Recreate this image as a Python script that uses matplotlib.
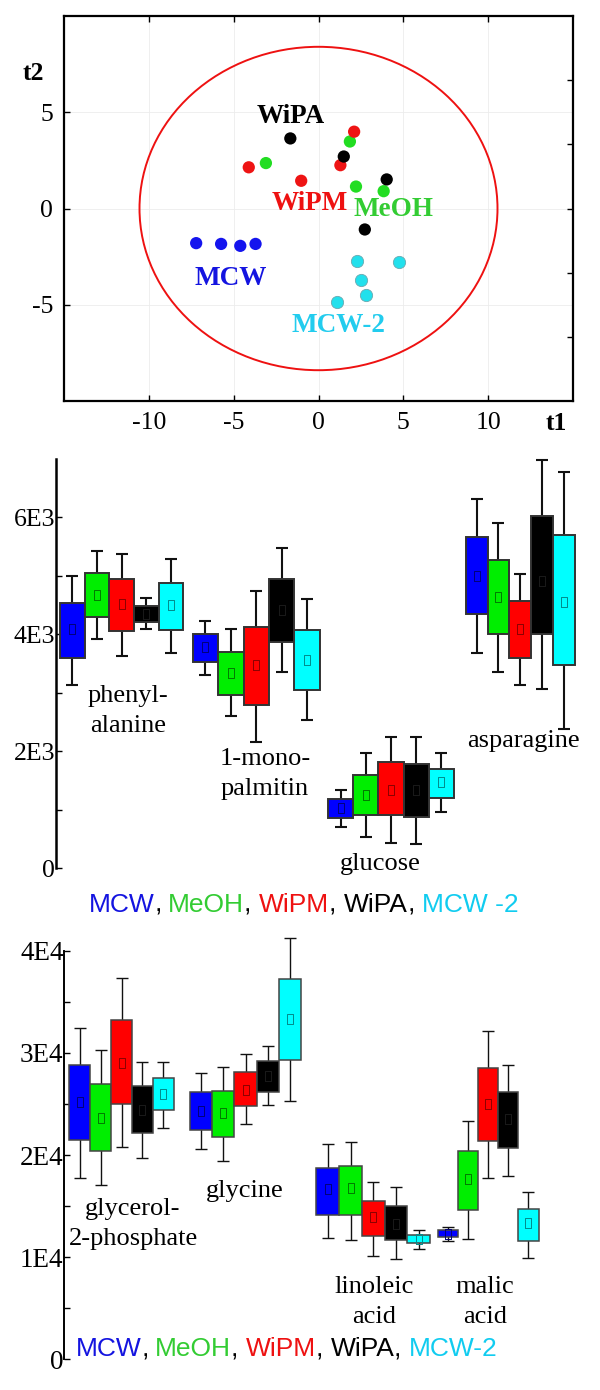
import numpy as np
import matplotlib
matplotlib.use("Agg")
import matplotlib.pyplot as plt
from matplotlib.patches import Ellipse

plt.rcParams['axes.unicode_minus'] = False

# ---------------- data ----------------
groups = ['MCW', 'MeOH', 'WiPM', 'WiPA', 'MCW-2']

# PCA scores (t1, t2)
mcw_t1 = [-7.21, -5.74, -4.61, -3.71]
mcw_t2 = [-1.80, -1.84, -1.94, -1.84]
meoh_t1 = [1.85, -3.10, 2.21, 3.84]
meoh_t2 = [3.48, 2.36, 1.14, 0.90]
wipm_t1 = [2.10, -4.11, 1.29, -1.02]
wipm_t2 = [3.99, 2.14, 2.25, 1.44]
wipa_t1 = [-1.66, 1.49, 4.02, 2.73]
wipa_t2 = [3.64, 2.70, 1.51, -1.09]
mcw2_t1 = [2.26, 4.72, 2.50, 2.82, 1.11]
mcw2_t2 = [-2.72, -2.77, -3.72, -4.50, -4.86]

# middle panel box plots
mid_labels = ['phenyl-\nalanine', '1-mono-\npalmitin', 'glucose', 'asparagine']
mid_q3 = [[4540, 5045, 4940, 4485, 4880],
          [4000, 3705, 4120, 4950, 4075],
          [1180, 1600, 1815, 1785, 1700],
          [5665, 5270, 4565, 6020, 5695]]
mid_q1 = [[3595, 4300, 4060, 4215, 4075],
          [3535, 2960, 2790, 3865, 3055],
          [865, 910, 910, 880, 1210],
          [4345, 4000, 3605, 4015, 3470]]
mid_hi = [[5005, 5420, 5375, 4620, 5290],
          [4225, 4085, 4750, 5470, 4600],
          [1335, 1965, 2250, 2250, 1965],
          [6320, 5910, 5035, 6985, 6775]]
mid_lo = [[3130, 3915, 3635, 4085, 3680],
          [3310, 2605, 2155, 3350, 2530],
          [710, 540, 440, 420, 955],
          [3690, 3365, 3140, 3070, 2380]]
mid_mean = [[4085, 4680, 4515, 4355, 4495],
            [3780, 3340, 3470, 4410, 3555],
            [1025, 1250, 1345, 1335, 1475],
            [5005, 4640, 4085, 4920, 4555]]
mid_ticks = [0, 2000, 4000, 6000]
mid_ticklabels = ['0', '2E3', '4E3', '6E3']

# bottom panel box plots
bot_labels = ['glycerol-\n2-phosphate', 'glycine', 'linoleic\nacid', 'malic\nacid']
bot_q3 = [[28800, 26950, 33200, 26750, 27530],
          [26130, 26230, 28150, 29160, 37220],
          [18700, 18900, 15500, 15050, 12200],
          [12650, 20380, 28520, 26150, 14720]]
bot_q1 = [[21430, 20360, 24990, 22120, 24370],
          [22440, 21790, 24790, 26190, 29290],
          [14130, 14130, 12100, 11640, 11380],
          [11970, 14600, 21340, 20700, 11540]]
bot_hi = [[32460, 30240, 37360, 29130, 29130],
          [27990, 28640, 29890, 30630, 41200],
          [21050, 21260, 17320, 16850, 12690],
          [13000, 23370, 32120, 28860, 16430]]
bot_lo = [[17780, 17030, 20810, 19670, 22610],
          [20550, 19440, 23030, 24890, 25310],
          [11870, 11710, 10160, 9840, 10820],
          [11540, 11770, 17740, 17990, 9900]]
bot_mean = [[25150, 23590, 28970, 24400, 25970],
            [24300, 24080, 26360, 27700, 33270],
            [16630, 16790, 13900, 13300, 11800],
            [12300, 17630, 25000, 23500, 13310]]
bot_ticks = [0, 10000, 20000, 30000, 40000]
bot_ticklabels = ['0', '1E4', '2E4', '3E4', '4E4']

# ---------------- style ----------------
SERIF = ['Liberation Serif', 'DejaVu Serif']
SANS = ['Liberation Sans', 'DejaVu Sans']
box_colors = ['#0000ff', '#00ee00', '#ff0000', '#000000', '#00ffff']
mean_colors = ['#00007a', '#007a00', '#8b0000', '#1a1a1a', '#008b8b']
score_colors = ['#1414ee', '#22dd22', '#ee1414', '#000000', '#22e0ec']
label_colors = ['#1414e0', '#33cc33', '#ee1111', '#000000', '#22ccee']

W, H = 600.0, 1390.0
fig = plt.figure(figsize=(6.0, 13.9), dpi=100)


def fx(px):
    return px / W


def fy(py):
    return 1.0 - py / H


# ---------------- top: score plot ----------------
ax = fig.add_axes([fx(64), fy(401), fx(573) - fx(64), fy(16) - fy(401)])
ax.set_xlim(-15, 15)
ax.set_ylim(-10, 10)
for v in [-10, -5, 0, 5, 10]:
    ax.axvline(v, color='#ececec', lw=0.6, zorder=0)
for v in [-5, 0, 5]:
    ax.axhline(v, color='#ececec', lw=0.6, zorder=0)
ax.add_patch(Ellipse((0, 0), 2 * 10.55, 2 * 8.4, fill=False, ec='#ee1111', lw=1.4, zorder=1))
score_sets = [(mcw_t1, mcw_t2), (meoh_t1, meoh_t2), (wipm_t1, wipm_t2),
              (wipa_t1, wipa_t2), (mcw2_t1, mcw2_t2)]
for (t1, t2), c in zip(score_sets, score_colors):
    ec = '#6aa8b0' if c == score_colors[4] else 'none'
    ax.scatter(t1, t2, s=78, color=c, edgecolors=ec, linewidths=0.6, zorder=3)

name_pos = {'MCW': (-5.15, -3.64), 'MeOH': (4.43, -0.03), 'WiPM': (-0.54, 0.28),
            'WiPA': (-1.63, 4.78), 'MCW-2': (1.15, -6.10)}
for g, c in zip(groups, label_colors):
    x, y = name_pos[g]
    ax.text(x, y, g, color=c, fontsize=19.5, fontweight='bold', family=SERIF,
            ha='center', va='center', zorder=4)

ax.set_xticks([-10, -5, 0, 5, 10])
ax.set_yticks([-5, 0, 5])
ax.tick_params(direction='in', length=4, width=1.0, top=True, labelsize=18.5, pad=8)
for lab in ax.get_xticklabels() + ax.get_yticklabels():
    lab.set_family(SERIF)
for s in ax.spines.values():
    s.set_linewidth(1.6)
axr = ax.twinx()
axr.set_ylim(-10, 10)
axr.set_yticks([-6.667, -3.333, 0, 3.333, 6.667])
axr.tick_params(direction='in', length=4, width=1.0, labelright=False)
for s in axr.spines.values():
    s.set_visible(False)
fig.text(fx(33), fy(74), 't2', fontsize=18.5, fontweight='bold', family=SERIF, ha='center', va='center')
fig.text(fx(556), fy(423), 't1', fontsize=18.5, fontweight='bold', family=SERIF, ha='center', va='center')


# ---------------- box plot helper ----------------
mean_marker = [(-0.3, -0.5), (0.3, -0.5), (0.3, 0.5), (-0.3, 0.5), (-0.3, -0.5)]


def draw_boxes(ax, pos, widths, q1, q3, lo, hi, mean, elw, capsize, box_lw, box_ec):
    n = len(box_colors)
    for g in range(len(pos)):
        xs = pos[g] + (np.arange(n) - (n - 1) / 2.0) * widths[g]
        b1 = np.array(q1[g], float)
        b3 = np.array(q3[g], float)
        l = np.array(lo[g], float)
        h = np.array(hi[g], float)
        ax.errorbar(xs, b1, yerr=[b1 - l, h - b1], fmt='none', ecolor='#111111',
                    elinewidth=elw, capsize=capsize, capthick=elw, zorder=1, clip_on=False)
        ax.bar(xs, b3 - b1, bottom=b1, width=widths[g], color=box_colors,
               edgecolor=box_ec, linewidth=box_lw, zorder=2, clip_on=False)
        for i in range(n):
            ax.plot(xs[i], mean[g][i], marker=mean_marker, ms=7, mfc='none',
                    mec=mean_colors[i], mew=0.7, zorder=3, clip_on=False)


def style_axis(ax, ticks, ticklabels, minor, lw, labelsize):
    for k in ['top', 'right', 'bottom']:
        ax.spines[k].set_visible(False)
    ax.spines['left'].set_linewidth(lw)
    ax.set_xticks([])
    ax.set_yticks(ticks)
    ax.set_yticklabels(ticklabels, family=SERIF)
    ax.set_yticks(minor, minor=True)
    ax.tick_params(axis='y', which='both', direction='in', length=4, width=1.0,
                   labelsize=labelsize, pad=0.5)


def legend_line(xc, ybase, sep):
    pieces = []
    for i, g in enumerate(groups):
        pieces.append((g if g != 'MCW-2' else 'MCW' + sep + '-2', label_colors[i] if i != 4 else '#11ccf0'))
        if i < len(groups) - 1:
            pieces.append((', ', '#000000'))
    fig.canvas.draw()
    r = fig.canvas.get_renderer()
    probe = fig.text(0, 0, '|', fontsize=19, family=SANS)
    wbar = probe.get_window_extent(r).width
    probe.remove()
    full = ''.join(p for p, _ in pieces)
    t = fig.text(0, 0, full + '|', fontsize=19, family=SANS)
    total = t.get_window_extent(r).width - wbar
    t.remove()
    x0 = xc - total / 2.0
    prefix = ''
    for p, c in pieces:
        if prefix:
            t = fig.text(0, 0, prefix + '|', fontsize=19, family=SANS)
            off = t.get_window_extent(r).width - wbar
            t.remove()
        else:
            off = 0.0
        fig.text(fx(x0 + off), fy(ybase), p, color=c, fontsize=19, family=SANS,
                 ha='left', va='baseline')
        prefix += p


# ---------------- middle panel ----------------
unit_m = 134.7
axm = fig.add_axes([fx(56), fy(868.3), 1 - fx(56), fy(459) - fy(868.3)])
axm.set_ylim(0, 7000)
axm.set_xlim((56 - 121.6) / unit_m, (600 - 121.6) / unit_m)
mid_pos = [0, 1, 2, 2.96]
mid_w = [0.183, 0.189, 0.187, 0.162]
draw_boxes(axm, mid_pos, mid_w, mid_q1, mid_q3, mid_lo, mid_hi, mid_mean,
           elw=1.5, capsize=4.5, box_lw=1.4, box_ec='#333333')
style_axis(axm, mid_ticks, mid_ticklabels, [1000, 3000, 5000], 1.8, 18.5)

mid_label_px = [(128, 701.7), (265, 765), (380, 870), (523.8, 746.7)]
for lab, (px, py) in zip(mid_labels, mid_label_px):
    for j, line in enumerate(lab.split('\n')):
        fig.text(fx(px), fy(py + 30.5 * j), line, fontsize=19, family=SERIF,
                 ha='center', va='baseline')

# ---------------- bottom panel ----------------
unit_b = 124.0
axb = fig.add_axes([fx(64.3), fy(1359.4), 1 - fx(64.3), fy(950.7) - fy(1359.4)])
axb.set_ylim(0, 40000)
axb.set_xlim((64.3 - 121.5) / unit_b, (600 - 121.5) / unit_b)
bot_pos = [0, 1.0, 2.03, 2.956]
bot_w = [0.169, 0.179, 0.183, 0.163]
draw_boxes(axb, bot_pos, bot_w, bot_q1, bot_q3, bot_lo, bot_hi, bot_mean,
           elw=1.0, capsize=4.0, box_lw=1.1, box_ec='#444444')
style_axis(axb, bot_ticks, bot_ticklabels, [5000, 15000, 25000, 35000], 1.4, 19.5)

bot_label_px = [(133, 1215), (245, 1197), (374, 1292.7), (485, 1292.7)]
for lab, (px, py) in zip(bot_labels, bot_label_px):
    for j, line in enumerate(lab.split('\n')):
        fig.text(fx(px), fy(py + 30.5 * j), line, fontsize=19, family=SERIF,
                 ha='center', va='baseline')

# legends (multi-coloured text lines)
legend_line(304, 911.5, ' ')
legend_line(287, 1356.5, '')

fig.savefig('out.png', dpi=100)
